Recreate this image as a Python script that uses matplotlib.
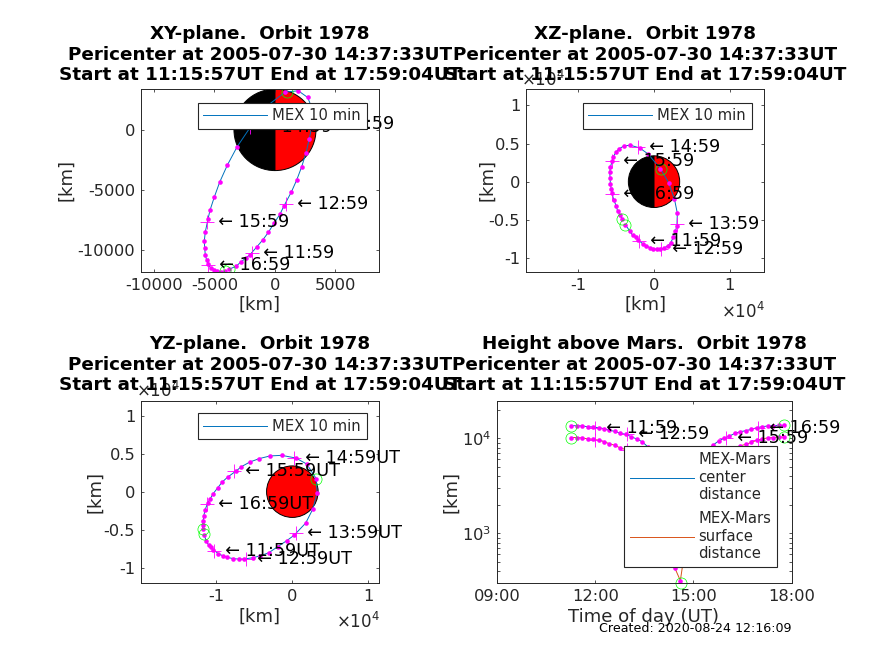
#!/usr/bin/env python3
"""MEX orbit 1978 seen in three planes, plus height above Mars."""

import matplotlib
matplotlib.use("Agg")
import matplotlib.pyplot as plt
from matplotlib.patches import Circle, Wedge
from matplotlib.ticker import NullFormatter

FIG_W, FIG_H = 874, 655
DARK = "#262626"
BLUE = "#0072BD"
ORANGE = "#D95319"
MAGENTA = "#FF00FF"
GREEN = "#00FF00"
MARS_RADIUS = 3390

# 10 minute samples along the orbit (minutes of day, km)
minutes = [676, 686, 696, 706, 716, 726, 736, 746, 756, 766, 776, 786, 796, 806,
           816, 826, 836, 846, 856, 866, 876, 886, 896, 906, 916, 926, 936, 946,
           956, 966, 976, 986, 996, 1006, 1016, 1026, 1036, 1046, 1056, 1066]
orbit_x = [-3780, -3220, -2840, -2400, -2070, -1488, -1019, -550, -80, 410, 740,
           1350, 1790, 2204, 2562, 2838, 3030, 3080, 2700, 1930, 850, -792, -1892,
           -3124, -3940, -4570, -5014, -5372, -5530, -5760, -5840, -5810, -5760,
           -5650, -5540, -5320, -5000, -4800, -4500, -4170]
orbit_y = [-11600, -11350, -11020, -10660, -10390, -9725, -9170, -8540, -7770,
           -7025, -6340, -5180, -4190, -3085, -1930, -740, 220, 1756, 2700, 3250,
           3150, 1890, 440, -1400, -2940, -4350, -5590, -6695, -7400, -8490, -9230,
           -9840, -10410, -10830, -11150, -11490, -11640, -11740, -11790, -11780]
orbit_z = [-5650, -6450, -7020, -7300, -7650, -8160, -8430, -8650, -8820, -8870,
           -8870, -8690, -8430, -8030, -7240, -6450, -5750, -4130, -2280, -130,
           1700, 3640, 4430, 4780, 4700, 4350, 3900, 3290, 2720, 1930, 1270, 480,
           -260, -970, -1540, -2410, -3160, -3860, -4350, -4950]
center_km = [13590, 13590, 13480, 13270, 13160, 12950, 12640, 12140, 11850, 11290,
             11020, 10410, 9840, 9220, 8170, 7085, 6500, 5440, 4450, 3820, 3708,
             4180, 4835, 5880, 6800, 7660, 8510, 9370, 10000, 10580, 11290, 11750,
             12040, 12440, 12950, 13270, 13480, 13590, 13700, 13700]
surface_km = [10200, 10200, 10090, 9880, 9770, 9560, 9250, 8750, 8460, 7900, 7630,
              7020, 6450, 5830, 4780, 3695, 3110, 2050, 1060, 430, 318, 790, 1445,
              2490, 3410, 4270, 5120, 5980, 6610, 7190, 7900, 8360, 8650, 9050,
              9560, 9880, 10090, 10200, 10310, 10310]

# Hourly crosses
hour_labels = ["11:59", "12:59", "13:59", "14:59", "15:59", "16:59"]
hour_minutes = [719, 779, 839, 899, 959, 1019]
hour_x = [-1930, 880, 3040, -2090, -5600, -5520]
hour_y = [-10280, -6150, 480, 260, -7700, -11260]
hour_z = [-7800, -8800, -5500, 4490, 2670, -1650]
hour_center = [13000, 11000, 6300, 5000, 10000, 12900]
hour_surface = [9610, 7610, 2910, 1610, 6610, 9510]

# Start, pericenter, end
event_minutes = [676, 877.55, 1066]
event_x = [-3770, 965, -4170]
event_y = [-11600, 3150, -11780]
event_z = [-5620, 1650, -4950]
event_center = [13590, 3708, 13700]
event_surface = [10200, 300, 10310]

titles = ["XY-plane.  Orbit 1978", "XZ-plane.  Orbit 1978",
          "YZ-plane.  Orbit 1978", "Height above Mars.  Orbit 1978"]
title_2 = "Pericenter at 2005-07-30 14:37:33UT"
title_3 = "Start at 11:15:57UT End at 17:59:04UT"
legend_single = ["MEX 10 min"]
legend_height = ["MEX-Mars\ncenter\ndistance", "MEX-Mars\nsurface\ndistance"]
time_ticks = [9, 12, 15, 18]
time_tick_labels = ["09:00", "12:00", "15:00", "18:00"]
created = "Created: 2020-08-24 12:16:09"


def axes_px(fig, left, top, right, bottom):
    return fig.add_axes([left / FIG_W, 1 - bottom / FIG_H,
                         (right - left) / FIG_W, (bottom - top) / FIG_H])


def fig_text(fig, x, y, s, **kw):
    fig.text(x / FIG_W, 1 - y / FIG_H, s, ha=kw.pop("ha", "center"),
             va=kw.pop("va", "center"), **kw)


def style_axes(ax):
    ax.tick_params(which="both", direction="in", top=True, right=True, length=2.2,
                   width=0.55, color=DARK, labelcolor=DARK, labelsize=11.7, pad=4)
    for spine in ax.spines.values():
        spine.set_linewidth(0.7)
        spine.set_color(DARK)
        spine.set_zorder(6)


def add_legend(ax, fig, handles, labels, left, top, pad, spacing, textpad=0.39):
    leg = ax.legend(handles, labels, loc="upper left",
                    bbox_to_anchor=(left / FIG_W, 1 - top / FIG_H),
                    bbox_transform=fig.transFigure, borderaxespad=0,
                    fontsize=10.6, fancybox=False, framealpha=1, edgecolor=DARK,
                    handlelength=4.3, handletextpad=textpad, borderpad=pad, labelspacing=spacing)
    leg.get_frame().set_linewidth(0.8)
    for txt in leg.get_texts():
        txt.set_color(DARK)
    leg.set_zorder(8)


def draw_orbit(ax, xs, ys, hx, hy, ex, ey, suffix, left_half):
    if left_half:
        ax.add_patch(Wedge((0, 0), MARS_RADIUS, 90, 270, fc="black", ec="black", lw=0.7, zorder=1))
        ax.add_patch(Wedge((0, 0), MARS_RADIUS, -90, 90, fc="red", ec="black", lw=0.7, zorder=1))
    else:
        ax.add_patch(Circle((0, 0), MARS_RADIUS, fc="red", ec="black", lw=0.7, zorder=1))
    line, = ax.plot(xs, ys, color=BLUE, lw=0.7, zorder=2)
    ax.plot(xs, ys, ls="none", marker="o", ms=3.3, mew=0, color=MAGENTA, zorder=2.2)
    ax.plot(hx, hy, ls="none", marker="+", ms=9.5, mew=0.6, color=MAGENTA, zorder=2.3)
    ax.plot(ex, ey, ls="none", marker="o", ms=8, mfc="none", mec=GREEN, mew=0.5, zorder=2.4)
    for px, py, lab in zip(hx, hy, hour_labels):
        ax.text(px, py, "  \u2190 " + lab + suffix, fontsize=12.7, color="black",
                va="center", ha="left", zorder=3)
    return line


def main():
    fig = plt.figure(figsize=(FIG_W / 100, FIG_H / 100), dpi=100)

    rect_xy = (140.7, 89, 379, 272)
    rect_xz = (525.7, 89, 764, 272)
    rect_yz = (140.7, 400.7, 379, 583.3)
    rect_h = (497, 400.7, 791.7, 583.3)

    # XY
    ax = axes_px(fig, *rect_xy)
    line = draw_orbit(ax, orbit_x, orbit_y, hour_x, hour_y, event_x, event_y, "", True)
    ax.set_xlim(-11100, 8600)
    ax.set_ylim(-11830, 3400)
    ax.set_xticks([-10000, -5000, 0, 5000], ["-10000", "-5000", "0", "5000"])
    ax.set_yticks([-10000, -5000, 0], ["-10000", "-5000", "0"])
    style_axes(ax)
    add_legend(ax, fig, [line], legend_single, 197.7, 102.7, 0.38, 0.35)

    # XZ
    ax = axes_px(fig, *rect_xz)
    line = draw_orbit(ax, orbit_x, orbit_z, hour_x, hour_z, event_x, event_z, "", True)
    ax.set_xlim(-16950, 14530)
    ax.set_ylim(-11850, 12160)
    ax.set_xticks([-10000, 0, 10000], ["-1", "0", "1"])
    ax.set_yticks([-10000, -5000, 0, 5000, 10000], ["-1", "-0.5", "0", "0.5", "1"])
    style_axes(ax)
    add_legend(ax, fig, [line], legend_single, 582.7, 102.7, 0.38, 0.35)

    # YZ
    ax = axes_px(fig, *rect_yz)
    line = draw_orbit(ax, orbit_y, orbit_z, hour_y, hour_z, event_y, event_z, "UT", False)
    ax.set_xlim(-19950, 11400)
    ax.set_ylim(-12060, 11970)
    ax.set_xticks([-10000, 0, 10000], ["-1", "0", "1"])
    ax.set_yticks([-10000, -5000, 0, 5000, 10000], ["-1", "-0.5", "0", "0.5", "1"])
    style_axes(ax)
    add_legend(ax, fig, [line], legend_single, 197.7, 413.3, 0.38, 0.35)

    # Height above Mars
    ax = axes_px(fig, *rect_h)
    hours = [m / 60 for m in minutes]
    hour_t = [m / 60 for m in hour_minutes]
    event_t = [m / 60 for m in event_minutes]
    line_c, = ax.plot(hours, center_km, color=BLUE, lw=0.7, zorder=2)
    line_s, = ax.plot(hours, surface_km, color=ORANGE, lw=0.7, zorder=2)
    for vals, hvals, evals in ((center_km, hour_center, event_center),
                               (surface_km, hour_surface, event_surface)):
        ax.plot(hours, vals, ls="none", marker="o", ms=3.3, mew=0, color=MAGENTA, zorder=2.2)
        ax.plot(hour_t, hvals, ls="none", marker="+", ms=9.5, mew=0.6, color=MAGENTA, zorder=2.3)
        ax.plot(event_t, evals, ls="none", marker="o", ms=8, mfc="none", mec=GREEN, mew=0.5,
                zorder=2.4, clip_on=False)
    for t, v, lab in zip(hour_t, hour_center, hour_labels):
        ax.text(t, v, "  \u2190 " + lab, fontsize=12.7, color="black", va="center", ha="left", zorder=3)
    ax.set_yscale("log")
    ax.set_xlim(9, 18)
    ax.set_ylim(298, 24900)
    ax.set_xticks(time_ticks, time_tick_labels)
    ax.yaxis.set_minor_formatter(NullFormatter())
    style_axes(ax)
    add_legend(ax, fig, [line_c, line_s], legend_height, 624.3, 446, 0.42, 0.62, textpad=0.3)

    # Titles, overlapping each other as in the original
    for rect, name, base in ((rect_xy, titles[0], 34), (rect_xz, titles[1], 34),
                             (rect_yz, titles[2], 344), (rect_h, titles[3], 344)):
        cx = (rect[0] + rect[2]) / 2
        for i, s in enumerate((name, title_2, title_3)):
            fig_text(fig, cx, base + i * 20.6, s, fontsize=13.2, fontweight="bold",
                     color="black", zorder=10)

    # Axis labels
    lab = dict(fontsize=13.1, color=DARK)
    fig_text(fig, 260, 305, "[km]", **lab)
    fig_text(fig, 645, 305, "[km]", **lab)
    fig_text(fig, 260, 617, "[km]", **lab)
    fig_text(fig, 644, 617, "Time of day (UT)", **lab)
    fig_text(fig, 66, 180, "[km]", rotation=90, **lab)
    fig_text(fig, 487, 180, "[km]", rotation=90, **lab)
    fig_text(fig, 95, 492, "[km]", rotation=90, **lab)
    fig_text(fig, 451, 492, "[km]", rotation=90, **lab)

    # Exponents on the shared tick scale
    exp = dict(fontsize=12, color=DARK)
    fig_text(fig, 743, 312, r"$\times\mathdefault{10^{4}}$", **exp)
    fig_text(fig, 358, 622, r"$\times\mathdefault{10^{4}}$", **exp)
    fig_text(fig, 543, 80, r"$\times\mathdefault{10^{4}}$", **exp)
    fig_text(fig, 158, 391, r"$\times\mathdefault{10^{4}}$", **exp)

    fig_text(fig, 695.5, 629, created, fontsize=9.1, color="black")

    fig.savefig("out.png", dpi=100, facecolor="white")


if __name__ == "__main__":
    main()
